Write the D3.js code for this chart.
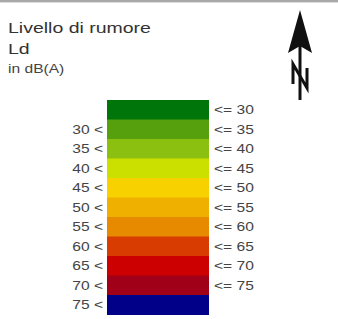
<!DOCTYPE html>
<html>
<head>
<meta charset="utf-8">
<script src="https://cdn.jsdelivr.net/npm/d3@7"></script>
<style>
  html, body { margin: 0; padding: 0; background: #fff; }
  svg { display: block; }
</style>
</head>
<body>
<div id="legend"></div>
<script>
/*
Noise level legend (Ld, dB(A)).
*/
const classes = ["<=30", "30-35", "35-40", "40-45", "45-50", "50-55", "55-60", "60-65", "65-70", "70-75", ">75"];
const lowerLabels = ["", "30 <", "35 <", "40 <", "45 <", "50 <", "55 <", "60 <", "65 <", "70 <", "75 <"];
const upperLabels = ["<= 30", "<= 35", "<= 40", "<= 45", "<= 50", "<= 55", "<= 60", "<= 65", "<= 70", "<= 75", ""];
const classColors = ["#00750a", "#55a00c", "#8cc010", "#cce000", "#f8d200", "#f0b000", "#e88a00", "#d83c00", "#cc0000", "#a00018", "#000088"];
const titleLines = ["Livello di rumore", "Ld"];
const unitLabel = "in dB(A)";

const width = 338;
const height = 319;
const stretch = 1.3;   // the reference type is wide

const svg = d3.create("svg")
    .attr("width", width)
    .attr("height", height);

// frame edge at the top
svg.append("rect")
    .attr("x", 0).attr("y", 0)
    .attr("width", width).attr("height", 2)
    .attr("fill", "#a8a8a8");
svg.append("rect")
    .attr("x", 0).attr("y", 2)
    .attr("width", width).attr("height", 1)
    .attr("fill", "#dedede");

// title
svg.append("g")
    .selectAll("text")
    .data(titleLines)
    .join("text")
        .attr("transform", (d, i) => `translate(8,${33 + i * 21}) scale(${stretch},1)`)
        .attr("font-family", "Liberation Sans, Arial, sans-serif")
        .attr("font-size", 15)
        .attr("fill", "#333")
        .text(d => d);

svg.append("text")
    .attr("transform", `translate(8,73) scale(${stretch},1)`)
    .attr("font-family", "Liberation Sans, Arial, sans-serif")
    .attr("font-size", 12)
    .attr("fill", "#444")
    .text(unitLabel);

// colour classes
const y = d3.scaleBand()
    .domain(classes)
    .range([100, 314.5])
    .paddingInner(0);

const x = d3.scaleLinear()
    .domain([0, 1])
    .range([107, 209]);

svg.append("g")
    .selectAll("rect")
    .data(classes)
    .join("rect")
        .attr("x", x(0))
        .attr("y", d => y(d))
        .attr("width", x(1) - x(0))
        .attr("height", y.bandwidth() + 0.5)
        .attr("fill", (d, i) => classColors[i]);

// left labels (lower bound)
svg.append("g")
    .selectAll("text")
    .data(classes)
    .join("text")
        .attr("transform", d => `translate(103,${y(d) + y.bandwidth() / 2 + 4.5}) scale(${stretch},1)`)
        .attr("text-anchor", "end")
        .attr("font-family", "Liberation Sans, Arial, sans-serif")
        .attr("font-size", 12)
        .attr("fill", "#444")
        .text((d, i) => lowerLabels[i]);

// right labels (upper bound)
svg.append("g")
    .selectAll("text")
    .data(classes)
    .join("text")
        .attr("transform", d => `translate(214,${y(d) + y.bandwidth() / 2 + 4.5}) scale(${stretch},1)`)
        .attr("font-family", "Liberation Sans, Arial, sans-serif")
        .attr("font-size", 12)
        .attr("fill", "#444")
        .text((d, i) => upperLabels[i]);

// north arrow
const north = svg.append("g").attr("transform", "translate(300,0)");
north.append("path")
    .attr("d", "M0,10 L12,53 L0,46 L-12,53 Z")
    .attr("fill", "#111");
north.append("line")
    .attr("x1", 0).attr("y1", 46)
    .attr("x2", 0).attr("y2", 100)
    .attr("stroke", "#111")
    .attr("stroke-width", 3);
north.append("path")
    .attr("d", "M-7,84 L-7,64 L7,88 L7,68")
    .attr("fill", "none")
    .attr("stroke", "#111")
    .attr("stroke-width", 3)
    .attr("stroke-linejoin", "miter");

document.getElementById("legend").appendChild(svg.node());
</script>
</body>
</html>
